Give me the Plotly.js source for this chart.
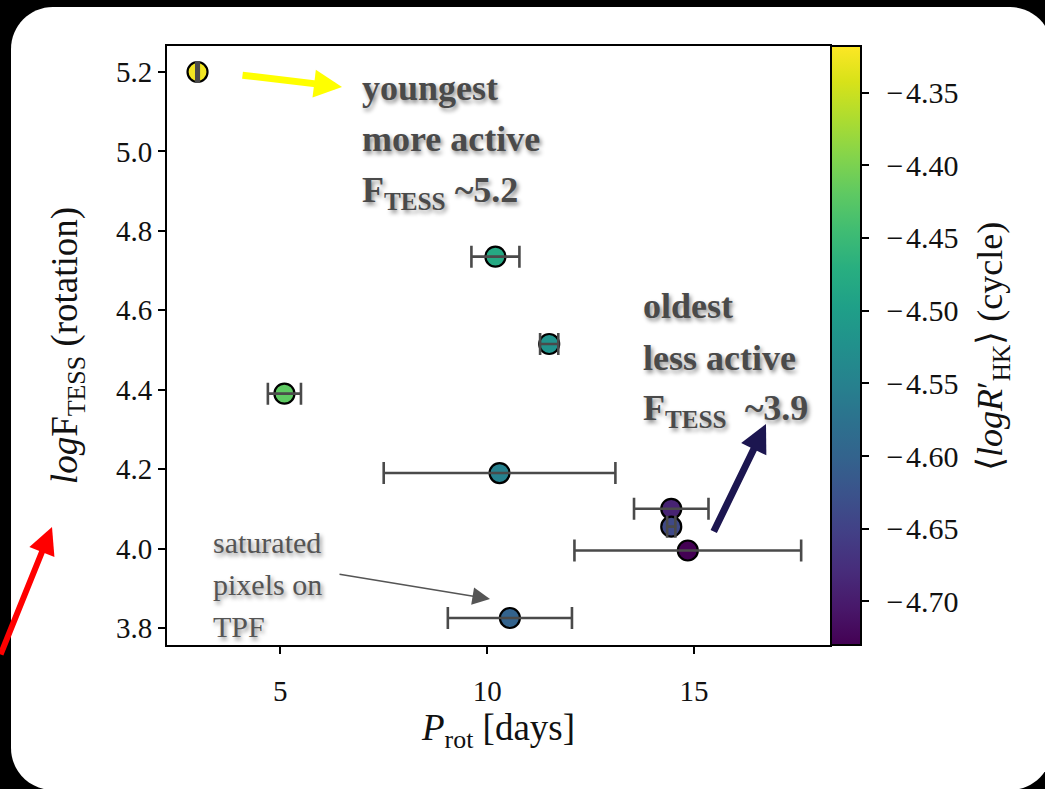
<!DOCTYPE html>
<html>
<head>
<meta charset="utf-8">
<script src="https://cdn.plot.ly/plotly-3.0.1.min.js"></script>
<style>
  html, body { margin: 0; padding: 0; background: #000; }
  #chart { width: 1045px; height: 789px; }
</style>
</head>
<body>
<div id="chart"></div>
<script>
// ---- data ----
const periods   = [3.0, 10.2, 11.5, 5.1, 10.3, 14.45, 14.45, 14.85, 10.55];
const logF      = [5.20, 4.735, 4.515, 4.39, 4.19, 4.10, 4.055, 3.995, 3.825];
const periodErr = [0.03, 0.58, 0.22, 0.40, 2.80, 0.90, 0.10, 2.74, 1.50];
const logRHK    = [-4.325, -4.48, -4.52, -4.42, -4.55, -4.69, -4.64, -4.73, -4.60];

const yTickVals = [3.8, 4.0, 4.2, 4.4, 4.6, 4.8, 5.0, 5.2];
const yTickText = ['3.8', '4.0', '4.2', '4.4', '4.6', '4.8', '5.0', '5.2'];
const xTickVals = [5, 10, 15];
const xTickText = ['5', '10', '15'];
const cbTickVals = [-4.70, -4.65, -4.60, -4.55, -4.50, -4.45, -4.40, -4.35];
const cbTickText = ['4.70', '4.65', '4.60', '4.55', '4.50', '4.45', '4.40', '4.35']
  .map(s => '\u2009\u2009\u2212\u200A' + s);

// ---- layout geometry ----
const W = 1045, H = 789;
const M = { l: 167, r: 215, t: 46, b: 144 };
const PW = W - M.l - M.r, PH = H - M.t - M.b;
const px = x => (x - M.l) / PW;          // pixel -> paper x
const py = y => (H - M.b - y) / PH;      // pixel -> paper y

// rounded white card path (paper coords)
function roundRect(x0, y0, x1, y1, r) {
  const k = 0.5523 * r;
  const P = (x, y) => px(x).toFixed(5) + ',' + py(y).toFixed(5);
  return 'M' + P(x0 + r, y0) +
    ' L' + P(x1 - r, y0) +
    ' C' + P(x1 - r + k, y0) + ' ' + P(x1, y0 + r - k) + ' ' + P(x1, y0 + r) +
    ' L' + P(x1, y1 - r) +
    ' C' + P(x1, y1 - r + k) + ' ' + P(x1 - r + k, y1) + ' ' + P(x1 - r, y1) +
    ' L' + P(x0 + r, y1) +
    ' C' + P(x0 + r - k, y1) + ' ' + P(x0, y1 - r + k) + ' ' + P(x0, y1 - r) +
    ' L' + P(x0, y0 + r) +
    ' C' + P(x0, y0 + r - k) + ' ' + P(x0 + r - k, y0) + ' ' + P(x0 + r, y0) + ' Z';
}

const serif = 'Liberation Serif, Times New Roman, serif';
const shadow = '2px 3px 4px rgba(0,0,0,0.45)';

const markerTrace = {
  type: 'scatter', mode: 'markers',
  x: periods, y: logF,
  marker: {
    size: 20, color: logRHK, colorscale: 'Viridis',
    cmin: -4.73, cmax: -4.318,
    line: { color: '#000', width: 2.2 },
    showscale: true,
    colorbar: {
      x: 1.0015, xanchor: 'left', xpad: 0, ypad: 0,
      y: 0.5, yanchor: 'middle', len: 1, lenmode: 'fraction',
      thickness: 30, outlinewidth: 2, outlinecolor: '#000',
      ticks: 'outside', ticklen: 7, tickwidth: 2, tickcolor: '#000',
      tickvals: cbTickVals, ticktext: cbTickText,
      tickfont: { family: serif, size: 30, color: '#111' }
    }
  },
  showlegend: false, hoverinfo: 'x+y'
};

const errTrace = {
  type: 'scatter', mode: 'markers',
  x: periods, y: logF,
  marker: { size: 20, opacity: 0 },
  error_x: { type: 'data', array: periodErr, visible: true,
             color: '#4a4a4a', thickness: 2.6, width: 11 },
  showlegend: false, hoverinfo: 'skip'
};

function textLine(text, xpx, ypx, opts) {
  return Object.assign({
    xref: 'paper', yref: 'paper', x: px(xpx), y: py(ypx),
    xanchor: 'left', yanchor: 'middle', showarrow: false, text: text,
    font: { family: serif, size: 36, color: '#4a4a4a', weight: 'bold', shadow: shadow }
  }, opts || {});
}

function arrow(tipX, tipY, tailX, tailY, color, width, head, size) {
  return {
    xref: 'paper', yref: 'paper', x: px(tipX), y: py(tipY),
    ax: tailX - tipX, ay: tailY - tipY, axref: 'pixel', ayref: 'pixel',
    text: '', showarrow: true, arrowhead: head, arrowsize: size,
    arrowwidth: width, arrowcolor: color, standoff: 0, startstandoff: 0
  };
}

const annotations = [
  textLine('youngest', 360, 88),
  textLine('more active', 360, 139),
  textLine('F<sub>TESS</sub> ~5.2', 360, 192),
  textLine('oldest', 641, 306),
  textLine('less active', 641, 358),
  textLine('F<sub>TESS</sub>&nbsp;&nbsp;~3.9', 641, 410),
  textLine('saturated', 211, 542, { font: { family: serif, size: 30, color: '#555', shadow: shadow } }),
  textLine('pixels on', 211, 584, { font: { family: serif, size: 30, color: '#555', shadow: shadow } }),
  textLine('TPF', 211, 626, { font: { family: serif, size: 30, color: '#555', shadow: shadow } }),
  arrow(342, 87, 241, 75, '#ffff00', 7, 2, 0.8),
  arrow(766, 424, 713, 533, '#1c1650', 7, 2, 0.8),
  arrow(490, 599, 338, 574, '#555555', 1.6, 2, 2.2),
  arrow(52, 527, -12, 656, '#ff0000', 6, 2, 0.9),
  {
    xref: 'paper', yref: 'paper', x: px(992), y: py(347),
    xanchor: 'center', yanchor: 'middle', textangle: -90, showarrow: false,
    text: '\u27E8<i>logR</i>\u2032<sub>HK</sub>\u27E9 (cycle)',
    font: { family: serif, size: 36, color: '#111' }
  }
];

const layout = {
  width: W, height: H, autosize: false,
  margin: M,
  paper_bgcolor: '#000', plot_bgcolor: '#fff',
  shapes: [{
    type: 'path', xref: 'paper', yref: 'paper', layer: 'below',
    path: roundRect(11, 7, 1052, 790, 42),
    fillcolor: '#fff', line: { width: 0 }
  }],
  xaxis: {
    range: [2.262, 18.287], tickvals: xTickVals, ticktext: xTickText,
    ticks: 'outside', ticklen: 7, tickwidth: 2, tickcolor: '#000',
    ticklabelstandoff: 12,
    showgrid: false, zeroline: false,
    showline: true, linecolor: '#000', linewidth: 2, mirror: true,
    tickfont: { family: serif, size: 29, color: '#111' },
    title: { text: '<i>P</i><sub>rot</sub> [days]', standoff: 7,
             font: { family: serif, size: 37, color: '#111' } }
  },
  yaxis: {
    range: [3.757, 5.2655], tickvals: yTickVals, ticktext: yTickText,
    ticks: 'outside', ticklen: 7, tickwidth: 2, tickcolor: '#000',
    showgrid: false, zeroline: false,
    showline: true, linecolor: '#000', linewidth: 2, mirror: true,
    tickfont: { family: serif, size: 29, color: '#111' },
    title: { text: '<i>log</i>F<sub>TESS</sub> (rotation)', standoff: 27,
             font: { family: serif, size: 37, color: '#111' } }
  },
  annotations: annotations,
  showlegend: false
};

Plotly.newPlot('chart', [markerTrace, errTrace], layout, { displayModeBar: false, staticPlot: true });
</script>
</body>
</html>
